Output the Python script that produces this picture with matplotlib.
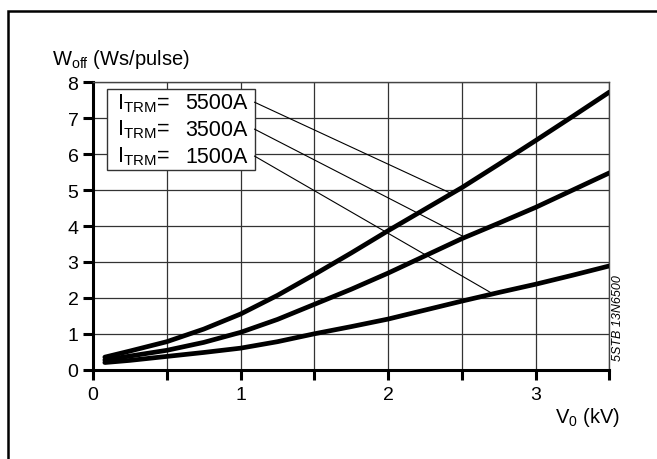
import numpy as np
import matplotlib
matplotlib.use("Agg")
import matplotlib.pyplot as plt
from matplotlib.patches import Rectangle

plt.rcParams['font.family'] = ['Liberation Sans', 'DejaVu Sans']
plt.rcParams['mathtext.fontset'] = 'custom'
plt.rcParams['mathtext.rm'] = 'Liberation Sans'
plt.rcParams['mathtext.it'] = 'Liberation Sans:italic'

# data
v0 = [0.08, 0.25, 0.5, 0.75, 1.0, 1.25, 1.5, 1.75, 2.0, 2.25, 2.5, 2.75, 3.0, 3.25, 3.5]
w_5500 = [0.35, 0.52, 0.78, 1.13, 1.55, 2.07, 2.65, 3.25, 3.87, 4.47, 5.07, 5.72, 6.38, 7.05, 7.73]
w_3500 = [0.27, 0.38, 0.54, 0.76, 1.04, 1.40, 1.82, 2.24, 2.69, 3.17, 3.65, 4.08, 4.52, 5.00, 5.48]
w_1500 = [0.20, 0.26, 0.37, 0.48, 0.60, 0.78, 1.00, 1.20, 1.41, 1.66, 1.91, 2.15, 2.38, 2.63, 2.89]
currents = ["5500A", "3500A", "1500A"]
leader_x = [2.43, 2.52, 2.71]   # where each pointer line meets its curve

xticks = [0, 0.5, 1, 1.5, 2, 2.5, 3, 3.5]
xticklabels = ["0", "", "1", "", "2", "", "3", ""]
yticks = [0, 1, 2, 3, 4, 5, 6, 7, 8]

fig = plt.figure(figsize=(6.57, 4.6), dpi=100)
ax = fig.add_axes([0.1416, 0.1941, 0.7861, 0.6248])

curves = [w_5500, w_3500, w_1500]
for w in curves:
    ax.plot(v0, w, color="black", lw=3.4, solid_capstyle="round", solid_joinstyle="round", zorder=4)

ax.set_xlim(0, 3.5)
ax.set_ylim(0, 8)
ax.set_xticks(xticks)
ax.set_xticklabels(xticklabels)
ax.set_yticks(yticks)
ax.grid(True, color="#333333", lw=0.9)
ax.set_axisbelow(True)

for s in ["left", "bottom"]:
    ax.spines[s].set_linewidth(2.2)
    ax.spines[s].set_color("black")
for s in ["top", "right"]:
    ax.spines[s].set_linewidth(1.0)
    ax.spines[s].set_color("#444444")

ax.tick_params(axis="x", direction="out", length=7.5, width=2.2, pad=4, labelsize=14)
ax.tick_params(axis="y", direction="out", length=7, width=2.2, pad=3.5, labelsize=14)

# legend box with pointer lines
box_x0, box_x1 = 0.097, 1.095
box_y0, box_y1 = 5.57, 7.82
ax.add_patch(Rectangle((box_x0, box_y0), box_x1 - box_x0, box_y1 - box_y0,
                       facecolor="white", edgecolor="#333333", lw=1.0, zorder=3))
row_h = (box_y1 - box_y0) / 3
for i, (lab, w, lx) in enumerate(zip(currents, curves, leader_x)):
    ty = box_y1 - row_h * (i + 0.5)
    ax.text(box_x0 + 0.065, ty, r"I$_{\mathrm{TRM}}$=", fontsize=15.5, ha="left", va="center", zorder=5)
    ax.text(box_x1 - 0.045, ty, lab, fontsize=15.5, ha="right", va="center", zorder=5)
    ly = np.interp(lx, v0, w)
    ax.plot([box_x1, lx], [ty, ly], color="black", lw=0.8, zorder=3.5)

fig.text(52 / 657, 1 - 65 / 460, r"W$_{\mathrm{off}}$ (Ws/pulse)", fontsize=14.5, ha="left", va="baseline")
fig.text(555 / 657, 1 - 423 / 460, r"V$_{\mathrm{0}}$ (kV)", fontsize=14.5, ha="left", va="baseline")
fig.text(618 / 657, 1 - 318 / 460, "5STB 13N6500", fontsize=9, style="italic",
         rotation=90, ha="center", va="center")

# outer frame (left and top edges visible)
fig.patches.append(Rectangle((8 / 657, -0.2), 1.2, 1.2 + (1 - 12 / 460) - 1.0,
                             transform=fig.transFigure, fill=False, edgecolor="black", lw=1.8))

fig.savefig("out.png", dpi=100)
